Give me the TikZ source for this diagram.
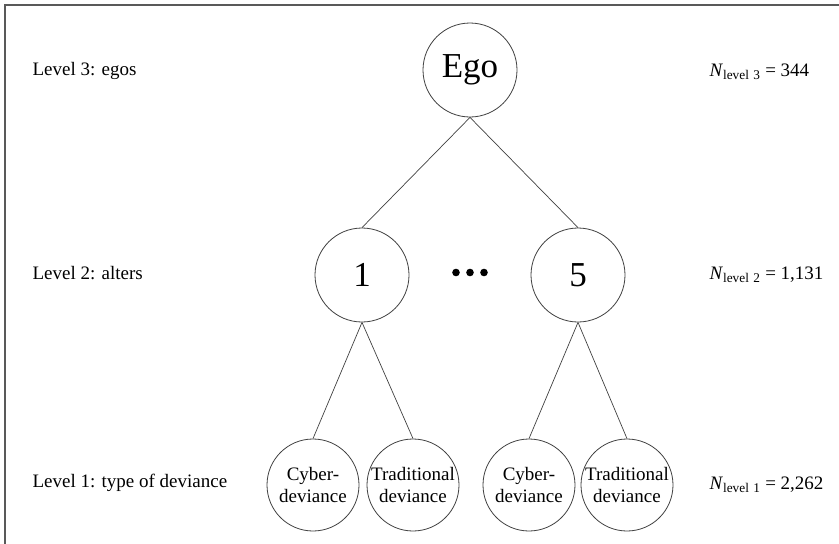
\documentclass[tikz,border=0pt]{standalone}
\usepackage{fontspec}
\setmainfont{Liberation Serif}
\usetikzlibrary{positioning}
\tikzset{
  egonode/.style={
    circle,
    draw=black!75, line width=0.8pt,
    minimum size=94pt,
    inner sep=0pt,
    font=\fontsize{35}{40}\selectfont},
  devnode/.style={
    circle,
    draw=black!75, line width=0.8pt,
    minimum size=92pt,
    inner sep=0pt,
    align=center,
    font=\fontsize{19}{22}\selectfont},
  levtext/.style={anchor=west, font=\fontsize{19}{22}\selectfont},
  link/.style={draw=black!75, line width=0.7pt},
  frame/.style={draw=black!65, line width=2pt},
}

\begin{document}
\begin{tikzpicture}[x=1pt,y=-1pt]
      \useasboundingbox (0,0) rectangle (839,544);
      \draw[frame] (5,544) -- (5,5) -- (839,5);

      \node[levtext] (levthree) at (29,71) {Level 3: egos};
      \node[levtext] (levtwo) at (29,273) {Level 2: alters};
      \node[levtext] (levone) at (29,483) {Level 1: type of deviance};

      \node[levtext] (nthree) at (706,72) {\textit{N}\textsubscript{level\,\,3} = 344};
      \node[levtext] (ntwo) at (706,275) {\textit{N}\textsubscript{level\,\,2} = 1,131};
      \node[levtext] (none) at (706,485) {\textit{N}\textsubscript{level\,\,1} = 2,262};

      \node[egonode] (ego) at (470,70) {Ego};
      \node[egonode] (alterone) at (362,275) {1};
      \node[egonode] (alterfive) at (578,275) {5};
      \foreach \dx in {456,470,484} \fill[black] (\dx,272.5) circle (3.8);

      \node[devnode] (cyberone) at (313,485) {Cyber-\\deviance};
      \node[devnode] (tradone) at (413,485) {Traditional\\deviance};
      \node[devnode] (cyberfive) at (529,485) {Cyber-\\deviance};
      \node[devnode] (tradfive) at (627,485) {Traditional\\deviance};

      \draw[link] (ego.south) -- (alterone.north);
      \draw[link] (ego.south) -- (alterfive.north);
      \draw[link] (alterone.south) -- (cyberone.north);
      \draw[link] (alterone.south) -- (tradone.north);
      \draw[link] (alterfive.south) -- (cyberfive.north);
      \draw[link] (alterfive.south) -- (tradfive.north);
\end{tikzpicture}
\end{document}
